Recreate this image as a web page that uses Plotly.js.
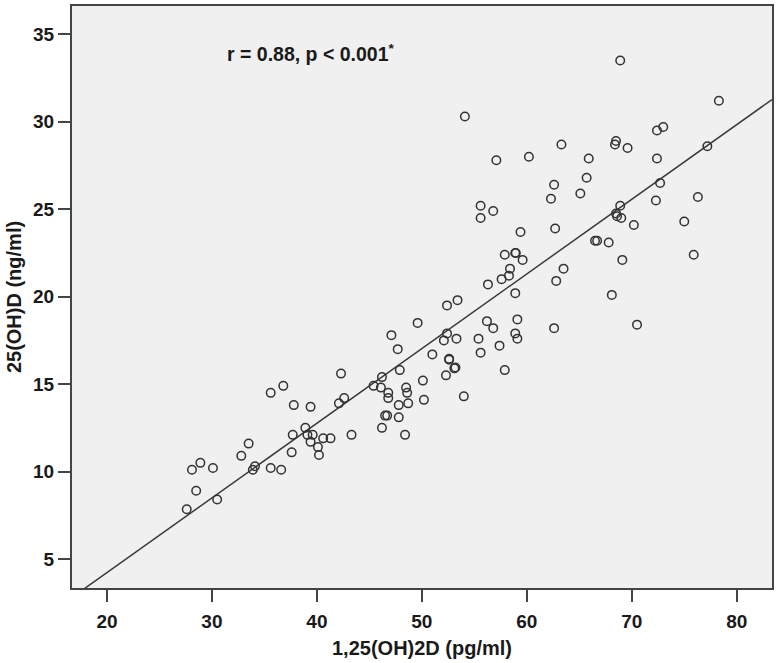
<!DOCTYPE html>
<html>
<head>
<meta charset="utf-8">
<script src="https://cdn.plot.ly/plotly-3.0.1.min.js"></script>
<style>html,body{margin:0;padding:0;background:#fff;}#chart{width:779px;height:663px;}</style>
</head>
<body>
<div id="chart"></div>
<script>
// 1,25(OH)2D (pg/ml)
const xValues = [
  27.6,28.1,28.5,28.9,30.1,30.5,32.8,33.5,34.1,33.9,35.6,36.6,35.6,36.8,37.8,37.6,37.7,38.9,39.1,39.6,39.4,39.4,40.1,40.2,40.6,41.3,43.3,42.1,42.6,42.3,
  45.4,46.2,46.1,46.8,46.8,46.5,46.7,46.2,47.1,47.7,47.9,47.8,47.8,48.5,48.6,48.7,48.4,49.6,50.1,50.2,51.0,52.1,52.4,53.3,52.6,52.6,53.1,53.2,52.3,54.0,55.4,55.6,56.2,56.8,57.4,58.9,59.1,59.1,57.9,62.6,70.5,
  52.4,53.4,55.6,56.8,55.6,59.4,57.9,58.9,58.95,59.6,58.4,57.6,58.3,56.3,58.9,54.1,57.1,60.2,68.9,78.3,72.4,73.0,77.2,63.3,68.5,68.4,69.6,65.9,72.4,65.7,72.7,62.6,65.1,62.3,76.3,72.3,68.9,68.5,68.6,69.0,70.2,75.0,62.7,66.5,66.7,67.8,69.1,75.9,63.5,62.8,68.1
];
// 25(OH)D (ng/ml)
const yValues = [
  7.85,10.1,8.9,10.5,10.2,8.4,10.9,11.6,10.3,10.1,10.2,10.1,14.5,14.9,13.8,11.1,12.1,12.5,12.1,12.1,13.7,11.7,11.4,10.95,11.9,11.9,12.1,13.9,14.2,15.6,
  14.9,15.4,14.8,14.5,14.2,13.2,13.2,12.5,17.8,17.0,15.8,13.8,13.1,14.8,14.5,13.9,12.1,18.5,15.2,14.1,16.7,17.5,17.9,17.6,16.4,16.45,15.9,15.95,15.5,14.3,17.6,16.8,18.6,18.2,17.2,17.9,17.6,18.7,15.8,18.2,18.4,
  19.5,19.8,25.2,24.9,24.5,23.7,22.4,22.5,22.5,22.1,21.6,21.0,21.2,20.7,20.2,30.3,27.8,28.0,33.5,31.2,29.5,29.7,28.6,28.7,28.9,28.7,28.5,27.9,27.9,26.8,26.5,26.4,25.9,25.6,25.7,25.5,25.2,24.75,24.6,24.5,24.1,24.3,23.9,23.2,23.2,23.1,22.1,22.4,21.6,20.9,20.1
];
// fit line
const lineIntercept = -4.31;
const lineSlope = 0.4268;
const xTicks = [20, 30, 40, 50, 60, 70, 80];
const yTicks = [5, 10, 15, 20, 25, 30, 35];
const xTitle = "1,25(OH)2D (pg/ml)";
const yTitle = "25(OH)D (ng/ml)";
const statText = "r = 0.88, p < 0.001<sup>*</sup>";

const xRange = [16.67, 83.36];
const yRange = [3.345, 36.615];
const lineX = xRange.slice();
const lineY = lineX.map(v => lineIntercept + lineSlope * v);

const traces = [
  {
    x: lineX, y: lineY, type: 'scatter', mode: 'lines',
    line: {color: '#3a3a3a', width: 1.5},
    hoverinfo: 'skip', showlegend: false
  },
  {
    x: xValues, y: yValues, type: 'scatter', mode: 'markers',
    marker: {symbol: 'circle-open', size: 8.5, color: '#333333', line: {width: 1.5, color: '#333333'}},
    showlegend: false
  }
];

const fontFam = '"Liberation Sans", Arial, sans-serif';
const axisCommon = {
  showgrid: false, zeroline: false,
  showline: true, linecolor: '#444444', linewidth: 2, mirror: true,
  ticks: 'outside', ticklen: 12, tickwidth: 2, tickcolor: '#444444',
  tickfont: {family: fontFam, size: 19, color: '#1a1a1a', weight: 'bold'},
  fixedrange: true
};

const layout = {
  width: 779, height: 663,
  margin: {l: 72, r: 7, t: 6, b: 75},
  paper_bgcolor: '#ffffff',
  plot_bgcolor: '#f0f0f0',
  showlegend: false,
  xaxis: Object.assign({}, axisCommon, {
    range: xRange, tickmode: 'array', tickvals: xTicks, ticktext: xTicks.map(String),
    ticklabelstandoff: 3,
    title: {text: '<b>' + xTitle + '</b>', font: {family: fontFam, size: 20, color: '#1a1a1a'}, standoff: 10}
  }),
  yaxis: Object.assign({}, axisCommon, {
    range: yRange, tickmode: 'array', tickvals: yTicks, ticktext: yTicks.map(String),
    ticklabelstandoff: 0,
    title: {text: '<b>' + yTitle + '</b>', font: {family: fontFam, size: 20, color: '#1a1a1a'}, standoff: 6}
  }),
  annotations: [{
    text: '<b>' + statText + '</b>', xref: 'paper', yref: 'paper',
    x: 0.219, y: 0.919, xanchor: 'left', yanchor: 'middle', showarrow: false,
    font: {family: fontFam, size: 19.5, color: '#1a1a1a'}
  }]
};

Plotly.newPlot('chart', traces, layout, {staticPlot: true, displayModeBar: false});
</script>
</body>
</html>
